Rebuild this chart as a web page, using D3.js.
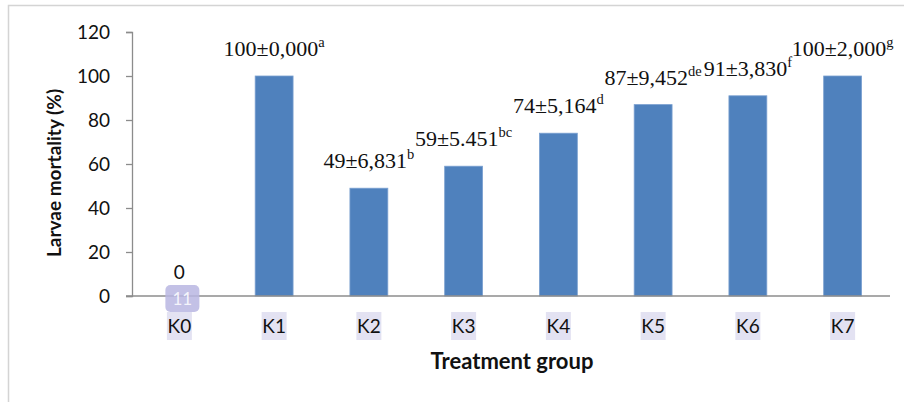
<!DOCTYPE html>
<html>
<head>
<meta charset="utf-8">
<script src="https://cdn.jsdelivr.net/npm/d3@7"></script>
<style>
html,body{margin:0;padding:0;background:#fff;}
svg{display:block;}
</style>
</head>
<body>
<svg id="chart" width="904" height="402"></svg>
<script>
const categories = ["K0","K1","K2","K3","K4","K5","K6","K7"];
const values = [0,100,49,59,74,87,91,100];
const errorTexts = ["", "100±0,000","49±6,831","59±5.451","74±5,164","87±9,452","91±3,830","100±2,000"];
const letters = ["", "a","b","bc","d","de","f","g"];
const yTicks = [0,20,40,60,80,100,120];

const svg = d3.select("#chart");
const m = {left:132, right:14, top:32, bottom:106};
const W = 904, H = 402;
const sans = "Lato, 'Open Sans', sans-serif";

// outer frame
svg.append("path").attr("d", `M8.5,402 V5.5 H904`).attr("fill","none").attr("stroke","#d4d4d4").attr("stroke-width",1.5);

const x = d3.scaleBand().domain(categories).range([m.left, W - m.right]);
const y = d3.scaleLinear().domain([0,120]).range([H - m.bottom, m.top]);
const barW = x.bandwidth() * 0.4;

// y axis
const yAxis = d3.axisLeft(y).tickValues(yTicks).tickSize(6).tickPadding(16);
const gy = svg.append("g").attr("transform",`translate(${m.left},0)`).call(yAxis);
gy.select(".domain").attr("stroke","#8c8c8c").attr("stroke-width",1.3);
gy.selectAll(".tick line").attr("stroke","#8c8c8c").attr("stroke-width",1.3);
gy.selectAll(".tick text").attr("font-family",sans).attr("font-size",19).attr("fill","#111");

// x-label highlights and labels
const labG = svg.append("g");
categories.forEach(c => {
  const cx = x(c) + x.bandwidth()/2;
  labG.append("rect").attr("x", cx-12.5).attr("y", 312).attr("width", 25).attr("height", 28).attr("fill","#e3e2f2");
  labG.append("text").attr("x", cx).attr("y", 333).attr("text-anchor","middle")
    .attr("font-family",sans).attr("font-size",19).attr("fill","#111").text(c);
});

// bars
svg.append("g").selectAll("rect").data(categories).join("rect")
  .attr("x", (d)=>x(d) + x.bandwidth()/2 - barW/2)
  .attr("width", barW)
  .attr("y", (d,i)=>y(values[i]))
  .attr("height", (d,i)=>y(0)-y(values[i]))
  .attr("fill","#4f81bd").attr("stroke","#7aa0d0").attr("stroke-width",0.8);

// x axis line
svg.append("line").attr("x1", m.left-6).attr("x2", W - m.right).attr("y1", y(0)).attr("y2", y(0))
  .attr("stroke","#8c8c8c").attr("stroke-width",1.3);

// artifact box on K0
const k0 = x("K0") + x.bandwidth()/2;
svg.append("rect").attr("x", k0-14).attr("y", 285).attr("width", 34).attr("height", 27).attr("rx",5)
  .attr("fill","#b9b6e2").attr("opacity",0.85);
svg.append("text").attr("x", k0+3).attr("y", 305).attr("text-anchor","middle")
  .attr("font-family",sans).attr("font-size",17).attr("fill","#f4f4fb").text("11");

// data labels
const lg = svg.append("g");
categories.forEach((c,i) => {
  const cx = x(c) + x.bandwidth()/2;
  const by = y(values[i]);
  if (i === 0) {
    lg.append("text").attr("x", cx).attr("y", by - 17).attr("text-anchor","middle")
      .attr("font-family",sans).attr("font-size",19).attr("fill","#111").text(String(values[i]));
    return;
  }
  const t = lg.append("text").attr("y", by - 20)
    .attr("font-family","'Liberation Serif', 'Times New Roman', serif").attr("font-size",22).attr("fill","#111");
  t.append("tspan").text(errorTexts[i]);
  t.append("tspan").attr("font-size",14.5).attr("dy",-9).text(letters[i]);
  const w = t.node().getComputedTextLength();
  t.attr("x", cx - w/2);
});

// axis titles
svg.append("text").attr("transform","translate(61,173) rotate(-90)").attr("text-anchor","middle")
  .attr("font-family",sans).attr("font-weight","bold").attr("font-size",19).attr("fill","#111")
  .text("Larvae mortality (%)");
svg.append("text").attr("x",512).attr("y",369).attr("text-anchor","middle")
  .attr("font-family",sans).attr("font-weight","bold").attr("font-size",22).attr("fill","#111")
  .text("Treatment group");
</script>
</body>
</html>
